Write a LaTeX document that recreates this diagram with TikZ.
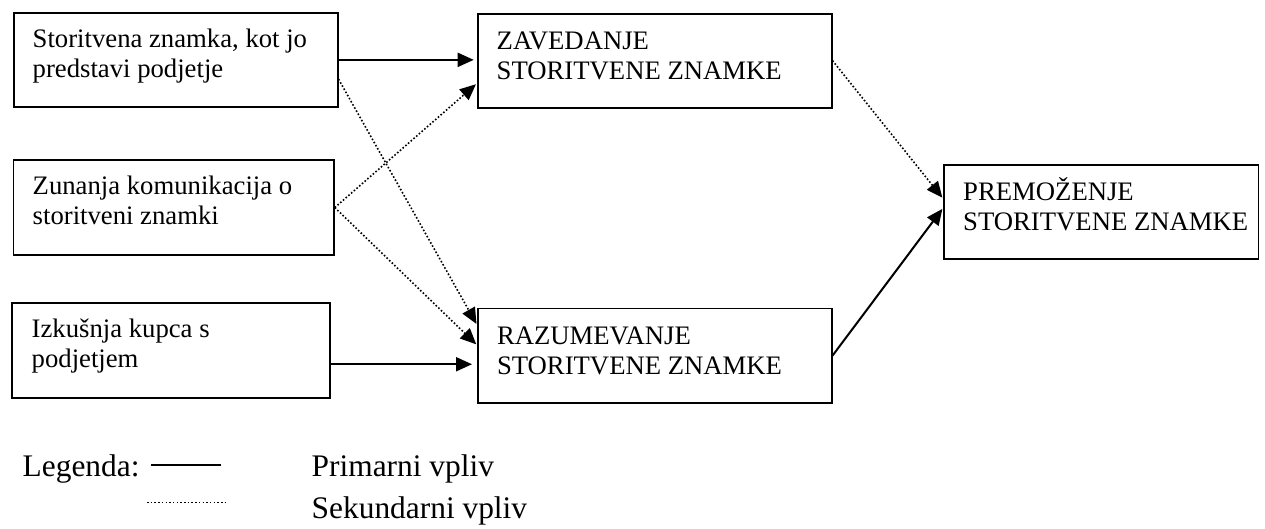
\documentclass[tikz,border=0pt]{standalone}
\usepackage{fontspec}
\setmainfont{Liberation Serif}
\usetikzlibrary{arrows.meta,calc}
\begin{document}
\begin{tikzpicture}[x=1pt,y=-1pt,
  box/.style={draw, line width=1.8pt, inner sep=0pt, anchor=north west},
  lbl/.style={anchor=base west, align=left, inner sep=0pt,
              font=\fontsize{26.7}{30}\selectfont},
  leglbl/.style={lbl, font=\fontsize{31.4}{36}\selectfont},
  tip/.style={-{Triangle[length=16pt,width=14pt]}},
  prim/.style={tip, line width=2pt},
  sek/.style={tip, line width=1.6pt, dash pattern=on 1.6pt off 2pt},
]
\useasboundingbox (0,0) rectangle (1265,528);

% input boxes
\node[box, minimum width=324pt, minimum height=94.5pt] (A) at (12.7,11.7) {};
\node[box, minimum width=320.5pt, minimum height=94.7pt] (B) at (12.5,159.3) {};
\node[box, minimum width=318.3pt, minimum height=95pt] (C) at (11,302) {};
% brand awareness / meaning
\node[box, minimum width=354pt, minimum height=94pt] (D) at (476.7,12.7) {};
\node[box, minimum width=353.7pt, minimum height=94.5pt] (E) at (477,307.5) {};
% brand equity
\node[box, minimum width=314.5pt, minimum height=94pt] (F) at (943,164) {};

% two-line texts, placed by the baseline of their second line
\node[lbl] (At) at (32.5,77) {Storitvena znamka, kot jo\\predstavi podjetje};
\node[lbl] (Bt) at (32.5,224.8) {Zunanja komunikacija o\\storitveni znamki};
\node[lbl] (Ct) at (31.5,367.3) {Izkušnja kupca s\\podjetjem};
\node[lbl] (Dt) at (496.5,79.5) {ZAVEDANJE\\STORITVENE ZNAMKE};
\node[lbl] (Et) at (496.8,374) {RAZUMEVANJE\\STORITVENE ZNAMKE};
\node[lbl] (Ft) at (963,230.5) {PREMOŽENJE\\STORITVENE ZNAMKE};

% attachment points on the box edges
\coordinate (a1) at ($(A.north east)!0.7!(A.south east)$);
\coordinate (d1) at ($(D.north west)!0.74!(D.south west)$);
\coordinate (e1) at ($(E.north west)!0.18!(E.south west)$);
\coordinate (e2) at ($(E.north west)!0.39!(E.south west)$);
\coordinate (c1) at ($(C.north east)!0.643!(C.south east)$);
\coordinate (f1) at ($(F.north west)!0.36!(F.south west)$);
\coordinate (f2) at ($(F.north west)!0.46!(F.south west)$);

% primary influences
\draw[prim, shorten >=3pt] (A.east) -- (A.east -| D.west);
\draw[prim, shorten >=5pt] (c1) -- (c1 -| E.west);
\draw[prim, shorten >=1pt] (E.east) -- (f2);
% secondary influences
\draw[sek, shorten >=1pt] (a1) -- (e1);
\draw[sek, shorten >=1pt] (B.east) -- (d1);
\draw[sek, shorten >=1pt] (B.east) -- (e2);
\draw[sek, shorten >=1pt] (D.east) -- (f1);

% legend
\node[leglbl] (leg) at (22.5,476.5) {Legenda:};
\coordinate (l1a) at (151,465);
\coordinate (l1b) at (221,465);
\coordinate (l2a) at (147,502.7);
\coordinate (l2b) at (225,502.7);
\draw[line width=2pt] (l1a) -- (l1b);
\draw[line width=1.5pt, dash pattern=on 1.5pt off 2.2pt] (l2a) -- (l2b);
\node[leglbl] (lp) at (311.5,476.5) {Primarni vpliv};
\node[leglbl] (ls) at (311.5,518) {Sekundarni vpliv};
\end{tikzpicture}
\end{document}
